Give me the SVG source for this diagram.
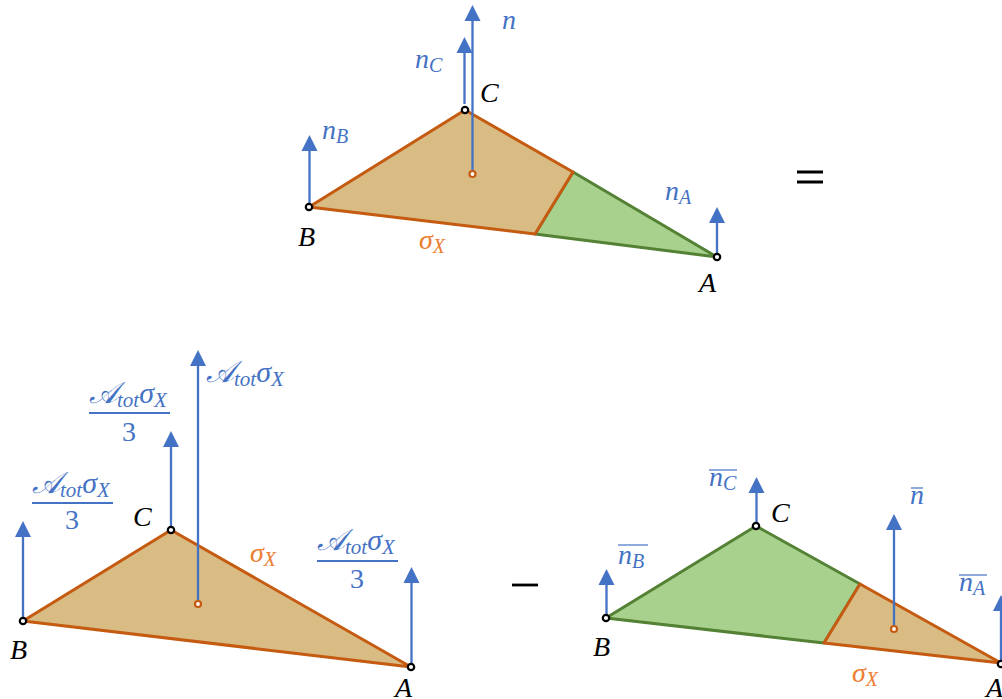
<svg xmlns="http://www.w3.org/2000/svg" width="1002" height="699" viewBox="0 0 1002 699">
<style>
text{font-family:"Liberation Serif","DejaVu Serif",serif;font-style:italic}
.m{font-size:28px}
.s{font-size:20px}
.f{font-size:30px}
.fs{font-size:21px}
.blue{fill:#4472c4}
.org{fill:#ed7d31}
.blk{fill:#000}
.up{font-style:normal}
.tan{fill:#d9bb84;stroke:#c55a11;stroke-width:3;stroke-linejoin:round}
.grn{fill:#a9d18e;stroke:#548235;stroke-width:3;stroke-linejoin:round}
.shaft{stroke:#4472c4;stroke-width:2.300;fill:none}
.head{fill:#4472c4}
.v{fill:#fff;stroke:#000;stroke-width:2.200}
.c{fill:#fff;stroke:#c55a11;stroke-width:2.200}
.bar{stroke:#4472c4;stroke-width:2;fill:none}
.thin{stroke:#4472c4;stroke-width:1.200;fill:none}
.op{stroke:#000;stroke-width:2.800;fill:none}
</style>
<g id="top-diagram">
<g id="top-surfaces">
<polygon class="grn" points="573,172 717,257 535,234"/>
<polygon class="tan" points="309,207 465,110 573,172 535,234"/>
</g>
<g id="top-connectors">
<path class="shaft" d="M464.500 104V50M472.500 174V18M309.500 203V148M717 253V220"/>
<path class="head" d="M464.500 37l-8 16h16zM472.500 5l-8 16h16zM309.500 135l-8 16h16zM717 207l-8 16h16z"/>
</g>
<g id="top-C"><circle class="v" cx="465" cy="110" r="3.200"/><text class="m blk" x="480" y="102">C</text></g>
<g id="top-B"><circle class="v" cx="309" cy="207" r="3.200"/><text class="m blk" x="298" y="246">B</text></g>
<g id="top-A"><circle class="v" cx="717" cy="257" r="3.200"/><text class="m blk" x="699" y="292">A</text></g>
<g id="top-center"><circle class="c" cx="472.500" cy="174" r="3"/></g>
<text class="m blue" x="502" y="29">n</text>
<text class="m blue" x="415" y="68">n<tspan class="s" dy="4">C</tspan></text>
<text class="m blue" x="322" y="139">n<tspan class="s" dy="4">B</tspan></text>
<text class="m blue" x="665" y="200">n<tspan class="s" dy="4">A</tspan></text>
<text class="m org" x="419" y="249">σ<tspan class="s" dy="4">X</tspan></text>
</g>
<g id="equals"><path class="op" d="M797 172H823M797 182H823"/></g>
<g id="left-diagram">
<g id="left-surface"><polygon class="tan" points="23,621 171,530 411,667"/></g>
<g id="left-connectors">
<path class="shaft" d="M171 527V445M198 604V364M23 617V535M411.500 664V581"/>
<path class="head" d="M171 431l-8 16h16zM198 350l-8 16h16zM23 521l-8 16h16zM411.500 567l-8 16h16z"/>
</g>
<g id="left-C"><circle class="v" cx="171" cy="530" r="3.200"/><text class="m blk" x="133" y="526">C</text></g>
<g id="left-B"><circle class="v" cx="23" cy="621" r="3.200"/><text class="m blk" x="10" y="659">B</text></g>
<g id="left-A"><circle class="v" cx="411" cy="667" r="3.200"/><text class="m blk" x="395" y="697">A</text></g>
<g id="left-center"><circle class="c" cx="198" cy="604" r="3"/></g>
<text class="f blue" x="206" y="382">𝒜<tspan class="fs" dy="4">tot</tspan><tspan dy="-4">σ</tspan><tspan class="fs" dy="4">X</tspan></text>
<text class="f blue" x="89" y="403">𝒜<tspan class="fs" dy="4">tot</tspan><tspan dy="-4">σ</tspan><tspan class="fs" dy="4">X</tspan></text>
<path class="bar" d="M89 413H170"/>
<text class="m blue up" x="129" y="441" text-anchor="middle">3</text>
<text class="f blue" x="32" y="493">𝒜<tspan class="fs" dy="4">tot</tspan><tspan dy="-4">σ</tspan><tspan class="fs" dy="4">X</tspan></text>
<path class="bar" d="M32 503H113"/>
<text class="m blue up" x="72" y="529" text-anchor="middle">3</text>
<text class="f blue" x="317" y="550">𝒜<tspan class="fs" dy="4">tot</tspan><tspan dy="-4">σ</tspan><tspan class="fs" dy="4">X</tspan></text>
<path class="bar" d="M317 561H398"/>
<text class="m blue up" x="357" y="588" text-anchor="middle">3</text>
<text class="m org" x="250" y="562">σ<tspan class="s" dy="4">X</tspan></text>
</g>
<g id="minus"><path class="op" d="M512 585H538"/></g>
<g id="right-diagram">
<g id="right-surfaces">
<polygon class="grn" points="606,618 756,526 860,584 824,643"/>
<polygon class="tan" points="860,584 1001,663 824,643"/>
</g>
<g id="right-connectors">
<path class="shaft" d="M756.500 522V491M894 626V528M606.500 614V583M1001 660V609"/>
<path class="head" d="M756.500 477l-8 16h16zM894 514l-8 16h16zM606.500 569l-8 16h16zM1001 595l-8 16h16z"/>
</g>
<g id="right-C"><circle class="v" cx="756" cy="526" r="3.200"/><text class="m blk" x="771" y="522">C</text></g>
<g id="right-B"><circle class="v" cx="606" cy="618" r="3.200"/><text class="m blk" x="593" y="656">B</text></g>
<g id="right-A"><circle class="v" cx="1001" cy="664" r="3.200"/><text class="m blk" x="986" y="697">A</text></g>
<g id="right-center"><circle class="c" cx="894" cy="629" r="3"/></g>
<text class="m blue" x="709" y="486">n<tspan class="s" dy="4">C</tspan></text>
<path class="thin" d="M709 470H737"/>
<text class="m blue" x="618" y="564">n<tspan class="s" dy="4">B</tspan></text>
<path class="thin" d="M618 545H648"/>
<text class="m blue" x="959" y="591">n<tspan class="s" dy="4">A</tspan></text>
<path class="thin" d="M959 575H987"/>
<text class="m blue" x="910" y="504">n</text>
<path class="thin" d="M911 488H923"/>
<text class="m org" x="852" y="682">σ<tspan class="s" dy="4">X</tspan></text>
</g>
</svg>
